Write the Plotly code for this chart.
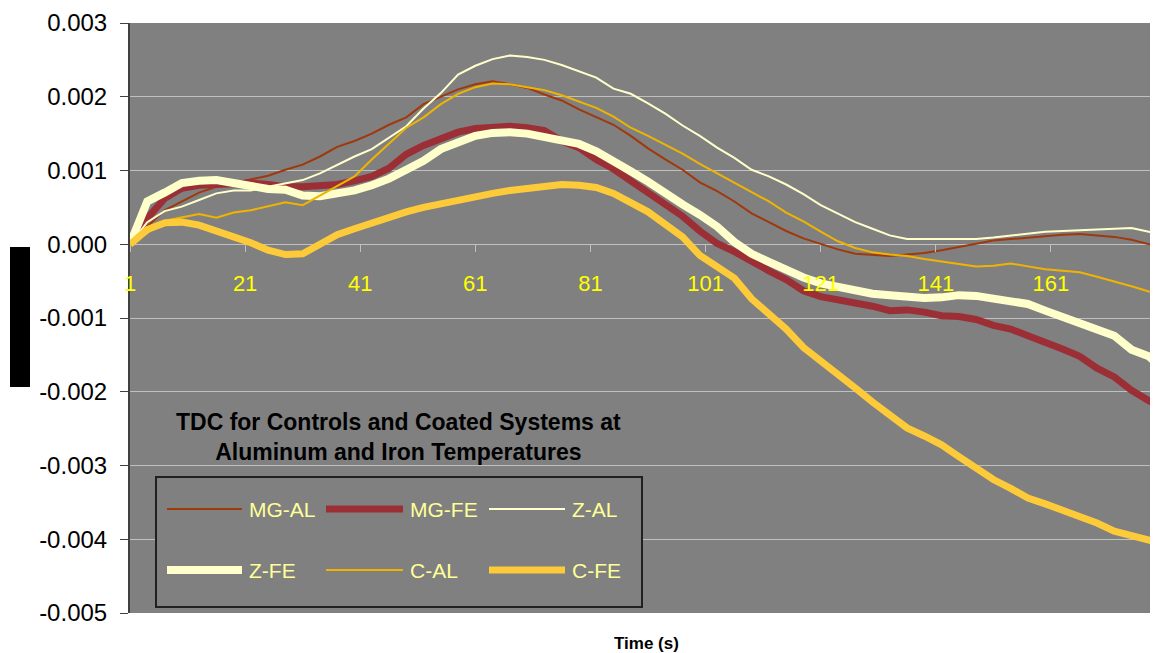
import plotly.graph_objects as go

# Time axis categories (sampled every 3 s)
time_s = [1, 4, 7, 10, 13, 16, 19, 22, 25, 28,
          31, 34, 37, 40, 43, 46, 49, 52, 55, 58,
          61, 64, 67, 70, 73, 76, 79, 82, 85, 88,
          91, 94, 97, 100, 103, 106, 109, 112, 115, 118,
          121, 124, 127, 130, 133, 136, 139, 142, 145, 148,
          151, 154, 157, 160, 163, 166, 169, 172, 175, 178,
          180]

# Series values in thousandths (x 0.001)
mg_al = [0, 0.24, 0.46, 0.58, 0.70, 0.78, 0.83, 0.88, 0.93, 1.01,
         1.08, 1.19, 1.32, 1.40, 1.50, 1.62, 1.72, 1.90, 2.00, 2.10,
         2.17, 2.21, 2.17, 2.12, 2.03, 1.95, 1.83, 1.73, 1.62, 1.47,
         1.30, 1.15, 1.01, 0.84, 0.72, 0.58, 0.42, 0.30, 0.18, 0.08,
         0.00, -0.07, -0.13, -0.15, -0.16, -0.14, -0.12, -0.08, -0.04, 0.00,
         0.05, 0.07, 0.09, 0.11, 0.13, 0.14, 0.12, 0.10, 0.06, 0.00,
         -0.04]
mg_fe = [0, 0.35, 0.62, 0.76, 0.80, 0.81, 0.82, 0.83, 0.81, 0.78,
         0.78, 0.80, 0.81, 0.86, 0.92, 1.03, 1.22, 1.34, 1.44, 1.52,
         1.57, 1.59, 1.60, 1.58, 1.54, 1.40, 1.31, 1.15, 1.02, 0.86,
         0.70, 0.56, 0.38, 0.18, 0.01, -0.10, -0.24, -0.36, -0.48, -0.63,
         -0.71, -0.75, -0.78, -0.84, -0.90, -0.89, -0.92, -0.97, -0.98, -1.02,
         -1.10, -1.15, -1.24, -1.32, -1.42, -1.52, -1.68, -1.80, -1.98, -2.12,
         -2.20]
z_al = [0, 0.30, 0.45, 0.51, 0.60, 0.69, 0.73, 0.73, 0.78, 0.83,
        0.87, 0.96, 1.08, 1.19, 1.29, 1.45, 1.60, 1.84, 2.05, 2.30,
        2.42, 2.51, 2.56, 2.54, 2.50, 2.43, 2.35, 2.26, 2.11, 2.04,
        1.91, 1.77, 1.61, 1.47, 1.31, 1.17, 1.01, 0.92, 0.81, 0.68,
        0.53, 0.41, 0.30, 0.21, 0.12, 0.07, 0.07, 0.07, 0.07, 0.07,
        0.09, 0.12, 0.15, 0.17, 0.18, 0.19, 0.21, 0.22, 0.22, 0.17,
        0.14]
z_fe = [0, 0.58, 0.70, 0.83, 0.86, 0.87, 0.83, 0.79, 0.75, 0.74,
        0.66, 0.65, 0.69, 0.73, 0.80, 0.89, 1.01, 1.13, 1.29, 1.39,
        1.47, 1.51, 1.52, 1.50, 1.46, 1.40, 1.36, 1.26, 1.11, 0.99,
        0.85, 0.68, 0.54, 0.40, 0.24, 0.03, -0.13, -0.24, -0.35, -0.45,
        -0.53, -0.58, -0.62, -0.67, -0.69, -0.71, -0.73, -0.72, -0.69, -0.70,
        -0.74, -0.76, -0.81, -0.90, -0.98, -1.06, -1.15, -1.24, -1.43, -1.52,
        -1.66]
c_al = [0, 0.15, 0.32, 0.37, 0.41, 0.36, 0.43, 0.46, 0.52, 0.57,
        0.53, 0.66, 0.78, 0.92, 1.15, 1.37, 1.58, 1.72, 1.90, 2.04,
        2.13, 2.18, 2.17, 2.13, 2.09, 2.02, 1.94, 1.85, 1.73, 1.58,
        1.47, 1.35, 1.23, 1.09, 0.96, 0.83, 0.71, 0.58, 0.43, 0.31,
        0.17, 0.04, -0.05, -0.11, -0.14, -0.16, -0.20, -0.23, -0.27, -0.30,
        -0.29, -0.26, -0.30, -0.34, -0.36, -0.38, -0.44, -0.50, -0.57, -0.64,
        -0.68]
c_fe = [0, 0.20, 0.29, 0.30, 0.26, 0.19, 0.10, 0.02, -0.08, -0.14,
        -0.13, 0.00, 0.13, 0.21, 0.29, 0.37, 0.44, 0.50, 0.55, 0.61,
        0.66, 0.69, 0.73, 0.76, 0.79, 0.81, 0.80, 0.77, 0.69, 0.56,
        0.44, 0.27, 0.10, -0.15, -0.30, -0.46, -0.74, -0.94, -1.15, -1.40,
        -1.58, -1.75, -1.95, -2.14, -2.33, -2.49, -2.60, -2.72, -2.88, -3.03,
        -3.19, -3.31, -3.44, -3.52, -3.61, -3.68, -3.78, -3.89, -3.95, -4.01,
        -4.05]

series_names = ["MG-AL", "MG-FE", "Z-AL", "Z-FE", "C-AL", "C-FE"]
series_values = [mg_al, mg_fe, z_al, z_fe, c_al, c_fe]
series_colors = ["#A0380C", "#9C2F35", "#FFFFCC", "#FFFFCC", "#F0B400", "#FDCB3A"]
series_widths = [2, 7, 2, 8, 2, 7]

x_ticks = [1, 21, 41, 61, 81, 101, 121, 141, 161]
y_tickvals = [0.003, 0.002, 0.001, 0.0, -0.001, -0.002, -0.003, -0.004, -0.005]
y_ticktext = ["0.003", "0.002", "0.001", "0.000", "-0.001", "-0.002", "-0.003", "-0.004", "-0.005"]

FONT = "Liberation Sans, Arial, sans-serif"

fig = go.Figure()
for name, vals, col, w in zip(series_names, series_values, series_colors, series_widths):
    fig.add_trace(go.Scatter(
        x=time_s, y=[v / 1000 for v in vals], mode="lines", name=name,
        line=dict(color=col, width=w), showlegend=False,
    ))

# page geometry (the page body adds an 8 px offset)
OFF = 8
PAGE_W, PAGE_H = 1158, 653
W, H = PAGE_W - OFF, PAGE_H - OFF
P_LEFT, P_RIGHT, P_TOP, P_BOTTOM = 130, 1158, 23, 613
L = P_LEFT - OFF
R = PAGE_W - P_RIGHT
T = P_TOP - OFF
B = PAGE_H - P_BOTTOM
pw, ph = P_RIGHT - P_LEFT, P_BOTTOM - P_TOP

def px(xp):
    return (xp - P_LEFT) / pw

def py(yp):
    return (P_BOTTOM - yp) / ph

shapes = []
annotations = []

# manual legend box
shapes.append(dict(type="rect", xref="paper", yref="paper",
                   x0=px(156), x1=px(642), y0=py(607), y1=py(477),
                   line=dict(color="#202020", width=2), fillcolor="#808080", layer="above"))
leg_cols = [(167, 242, 247), (326, 403, 408), (489, 565, 570)]
leg_rows = [509, 570]
for i, (name, col, w) in enumerate(zip(series_names, series_colors, series_widths)):
    r, c = divmod(i, 3)
    x0, x1, xt = leg_cols[c]
    yy = leg_rows[r]
    shapes.append(dict(type="line", xref="paper", yref="paper",
                       x0=px(x0), x1=px(x1), y0=py(yy), y1=py(yy),
                       line=dict(color=col, width=w), layer="above"))
    annotations.append(dict(text=name, xref="paper", yref="paper", x=px(xt), y=py(yy),
                            xanchor="left", yanchor="middle", showarrow=False,
                            font=dict(family=FONT, size=21, color="#FFFF99")))

# black block (axis title placeholder)
shapes.append(dict(type="rect", xref="paper", yref="paper",
                   x0=px(10), x1=px(30), y0=py(387), y1=py(247),
                   line=dict(width=0), fillcolor="black"))

# chart title inside plot
annotations.append(dict(text="<b>TDC for Controls and Coated Systems at<br>Aluminum and Iron Temperatures</b>",
                        xref="paper", yref="paper", x=px(398), y=py(437),
                        xanchor="center", yanchor="middle", showarrow=False, align="center",
                        font=dict(family=FONT, size=23, color="black")))
# x axis title
annotations.append(dict(text="<b>Time (s)</b>", xref="paper", yref="paper", x=px(646), y=py(643),
                        xanchor="center", yanchor="middle", showarrow=False,
                        font=dict(family=FONT, size=17, color="black")))

fig.update_layout(
    width=W, height=H,
    margin=dict(l=L, r=R, t=T, b=B, pad=0),
    paper_bgcolor="white", plot_bgcolor="#808080",
    shapes=shapes, annotations=annotations,
    showlegend=False,
    xaxis=dict(range=[1, 179.6], anchor="free", position=0.625,
               tickvals=x_ticks, ticks="outside", ticklen=7, tickcolor="#C0C0C0",
               ticklabelstandoff=12,
               tickfont=dict(family=FONT, size=22, color="#FFFF00"),
               showgrid=False, zeroline=False, showline=False),
    yaxis=dict(range=[-0.005, 0.003], tickvals=y_tickvals, ticktext=y_ticktext,
               ticks="outside", ticklen=8, tickcolor="#404040", ticklabelstandoff=8,
               tickfont=dict(family=FONT, size=24, color="black"),
               showgrid=True, gridcolor="#C0C0C0", gridwidth=1,
               zeroline=False, showline=True, linecolor="#404040", linewidth=2),
)

fig.write_html("out.html")
